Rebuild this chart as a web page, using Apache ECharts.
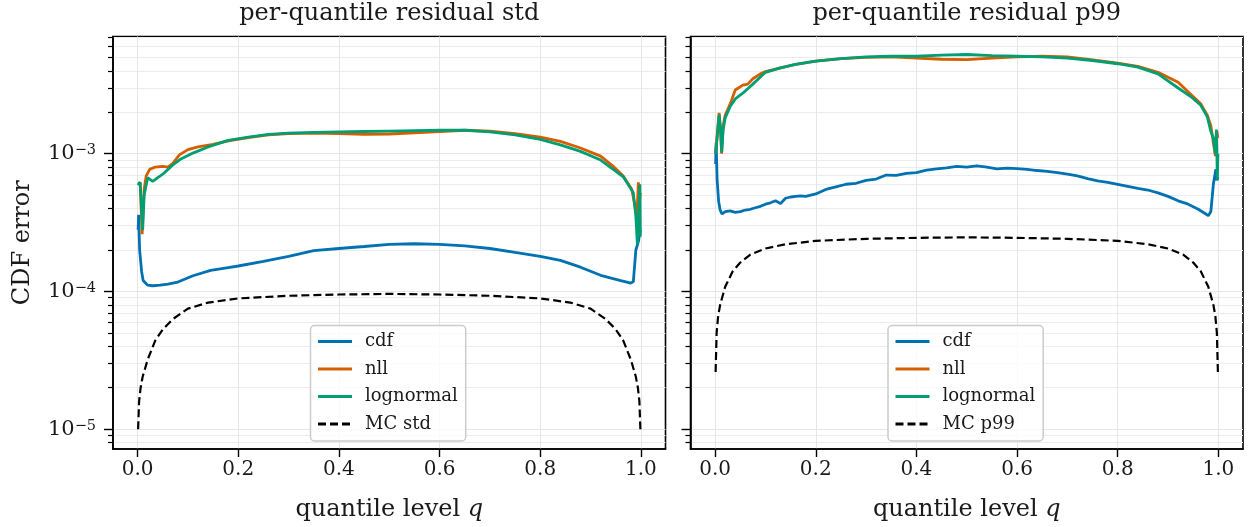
<!DOCTYPE html>
<html><head><meta charset="utf-8">
<script src="https://cdn.jsdelivr.net/npm/echarts@6/dist/echarts.min.js"></script>
<style>html,body{margin:0;padding:0;background:#fff}#c{width:1248px;height:527px}</style>
</head><body><div id="c"></div>
<script>
// ---------------- data ----------------
const panelTitles = ['per-quantile residual std', 'per-quantile residual p99'];
const seriesNames = ['cdf', 'nll', 'lognormal'];
const mcNames = ['MC std', 'MC p99'];
const xTickValues = [0, 0.2, 0.4, 0.6, 0.8, 1.0];
const yMajorExps = [-5, -4, -3];
const yMinorMultipliers = [2, 3, 4, 5, 6, 7, 8, 9];

const qMC = [0.001,0.003,0.006,0.01,0.02,0.035,0.05,0.07,0.1,0.14,0.2,0.3,0.4,0.5,0.6,0.7,0.8,0.86,0.9,0.93,0.95,0.965,0.98,0.99,0.994,0.997,0.999];
const mcStd = [1.0e-5,1.6e-5,2.0e-5,2.4e-5,3.2e-5,4.4e-5,5.3e-5,6.3e-5,7.5e-5,8.3e-5,8.9e-5,9.3e-5,9.5e-5,9.6e-5,9.5e-5,9.3e-5,8.9e-5,8.3e-5,7.5e-5,6.3e-5,5.3e-5,4.4e-5,3.2e-5,2.4e-5,2.0e-5,1.6e-5,1.0e-5];
const mcP99 = [2.6e-5,5.0e-5,6.6e-5,8.0e-5,1.08e-4,1.4e-4,1.62e-4,1.85e-4,2.05e-4,2.2e-4,2.33e-4,2.41e-4,2.45e-4,2.47e-4,2.45e-4,2.41e-4,2.33e-4,2.2e-4,2.05e-4,1.85e-4,1.62e-4,1.4e-4,1.08e-4,8.0e-5,6.6e-5,5.0e-5,2.6e-5];

const qLeftCdf = [0.001,0.002,0.004,0.008,0.011,0.02,0.03,0.045,0.06,0.08,0.11,0.145,0.18,0.2,0.25,0.3,0.35,0.4,0.45,0.5,0.55,0.6,0.65,0.7,0.75,0.8,0.84,0.88,0.92,0.96,0.98,0.985,0.99,0.995,0.999];
const leftCdf = [2.8e-4,3.6e-4,2.0e-4,1.39e-4,1.2e-4,1.11e-4,1.10e-4,1.11e-4,1.13e-4,1.17e-4,1.30e-4,1.42e-4,1.49e-4,1.53e-4,1.65e-4,1.8e-4,1.98e-4,2.05e-4,2.12e-4,2.2e-4,2.22e-4,2.2e-4,2.14e-4,2.05e-4,1.92e-4,1.8e-4,1.68e-4,1.5e-4,1.31e-4,1.2e-4,1.15e-4,1.18e-4,2.0e-4,2.3e-4,2.8e-4];

const qLeftNll = [0.001,0.005,0.009,0.013,0.017,0.024,0.035,0.05,0.06,0.07,0.083,0.1,0.12,0.15,0.18,0.22,0.26,0.3,0.35,0.4,0.45,0.5,0.55,0.6,0.65,0.7,0.75,0.8,0.84,0.88,0.92,0.945,0.965,0.982,0.988,0.992,0.995,0.997,0.999];
const leftNll = [6.0e-4,6.2e-4,2.6e-4,5.5e-4,6.9e-4,7.7e-4,8.0e-4,8.1e-4,8.0e-4,8.5e-4,9.8e-4,1.07e-3,1.12e-3,1.17e-3,1.24e-3,1.31e-3,1.37e-3,1.40e-3,1.41e-3,1.40e-3,1.38e-3,1.39e-3,1.42e-3,1.45e-3,1.48e-3,1.46e-3,1.40e-3,1.32e-3,1.23e-3,1.10e-3,9.6e-4,8.1e-4,6.9e-4,5.5e-4,4.2e-4,3.5e-4,6.2e-4,4.5e-4,5.2e-4];

const qLeftLogn = [0.001,0.005,0.008,0.010,0.013,0.02,0.03,0.04,0.05,0.07,0.085,0.11,0.14,0.18,0.22,0.26,0.3,0.35,0.4,0.45,0.5,0.55,0.6,0.65,0.7,0.75,0.8,0.84,0.88,0.92,0.945,0.965,0.985,0.99,0.993,0.996,0.998,0.999];
const leftLogn = [5.9e-4,6.2e-4,6.4e-4,2.8e-4,5.0e-4,6.7e-4,6.3e-4,6.7e-4,7.1e-4,8.3e-4,9.1e-4,1.01e-3,1.12e-3,1.25e-3,1.32e-3,1.38e-3,1.41e-3,1.43e-3,1.44e-3,1.45e-3,1.46e-3,1.47e-3,1.48e-3,1.48e-3,1.44e-3,1.37e-3,1.27e-3,1.16e-3,1.04e-3,9.0e-4,7.7e-4,6.8e-4,5.2e-4,3.5e-4,2.2e-4,3.8e-4,6.0e-4,2.5e-4];

const qRightCdf = [0.001,0.002,0.004,0.007,0.010,0.014,0.02,0.03,0.04,0.05,0.06,0.07,0.08,0.09,0.10,0.11,0.12,0.13,0.14,0.15,0.16,0.17,0.18,0.19,0.20,0.22,0.24,0.26,0.28,0.30,0.32,0.34,0.36,0.38,0.40,0.42,0.44,0.46,0.48,0.50,0.52,0.54,0.56,0.58,0.60,0.62,0.64,0.66,0.68,0.70,0.72,0.74,0.76,0.78,0.80,0.82,0.84,0.86,0.88,0.90,0.92,0.94,0.96,0.975,0.98,0.985,0.99,0.995,0.997,0.999];
const rightCdf = [8.4e-4,1.2e-3,6.5e-4,4.5e-4,3.9e-4,3.65e-4,3.8e-4,3.85e-4,3.75e-4,3.8e-4,3.9e-4,3.95e-4,4.05e-4,4.15e-4,4.3e-4,4.4e-4,4.55e-4,4.35e-4,4.75e-4,4.85e-4,4.9e-4,4.95e-4,4.9e-4,5.0e-4,5.1e-4,5.5e-4,5.75e-4,6.0e-4,6.1e-4,6.4e-4,6.55e-4,7.0e-4,6.95e-4,7.2e-4,7.3e-4,7.6e-4,7.75e-4,7.9e-4,8.1e-4,8.0e-4,8.15e-4,8.0e-4,7.75e-4,7.85e-4,7.8e-4,7.7e-4,7.55e-4,7.45e-4,7.3e-4,7.1e-4,6.9e-4,6.6e-4,6.35e-4,6.2e-4,6.0e-4,5.8e-4,5.6e-4,5.45e-4,5.2e-4,4.9e-4,4.55e-4,4.3e-4,3.95e-4,3.65e-4,3.55e-4,3.8e-4,6.0e-4,7.7e-4,6.4e-4,6.8e-4];

const qRightNll = [0.001,0.005,0.008,0.011,0.013,0.016,0.02,0.03,0.04,0.055,0.065,0.075,0.09,0.10,0.13,0.16,0.2,0.25,0.3,0.35,0.4,0.45,0.5,0.55,0.6,0.65,0.7,0.75,0.8,0.84,0.88,0.92,0.945,0.965,0.978,0.985,0.99,0.994,0.997,0.999];
const rightNll = [1.0e-3,1.5e-3,1.98e-3,1.4e-3,1.0e-3,1.6e-3,1.9e-3,2.3e-3,2.9e-3,3.15e-3,3.2e-3,3.5e-3,3.8e-3,3.95e-3,4.2e-3,4.45e-3,4.7e-3,4.9e-3,5.0e-3,5.05e-3,4.95e-3,4.85e-3,4.82e-3,4.95e-3,5.05e-3,5.1e-3,5.05e-3,4.8e-3,4.55e-3,4.3e-3,3.9e-3,3.3e-3,2.7e-3,2.3e-3,1.9e-3,1.6e-3,1.2e-3,9.6e-4,1.45e-3,1.3e-3];

const qRightLogn = [0.001,0.004,0.008,0.011,0.013,0.016,0.02,0.03,0.04,0.055,0.075,0.09,0.10,0.13,0.16,0.2,0.25,0.3,0.35,0.4,0.45,0.5,0.55,0.6,0.65,0.7,0.75,0.8,0.84,0.88,0.92,0.945,0.965,0.978,0.985,0.99,0.994,0.996,0.998,0.999];
const rightLogn = [1.0e-3,1.3e-3,1.92e-3,1.5e-3,1.02e-3,1.5e-3,1.82e-3,2.2e-3,2.5e-3,2.75e-3,3.2e-3,3.6e-3,3.9e-3,4.2e-3,4.45e-3,4.7e-3,4.9e-3,5.05e-3,5.1e-3,5.1e-3,5.2e-3,5.25e-3,5.15e-3,5.1e-3,5.05e-3,4.95e-3,4.75e-3,4.5e-3,4.25e-3,3.8e-3,3.0e-3,2.6e-3,2.25e-3,1.85e-3,1.45e-3,1.3e-3,1.0e-3,1.5e-3,6.5e-4,1.0e-3];

// ---------------- chart ----------------
const FONT = 'DejaVu Serif';
const TXT = '#1a1a1a';
const COLORS = ['#0072b2', '#d55e00', '#009e73'];
const LOG_MIN = -5.144, LOG_MAX = -2.149;
const X_MIN = -0.0489, X_MAX = 1.0489;
const GRID_LEFTS = [113, 690.5];
const GRID_TOP = 36.5, GRID_W = 552.5, GRID_H = 414.5;

function pairs(q, v) { return q.map((x, i) => [x, Math.log10(v[i])]); }
const minorVals = [];
for (const e of [-6, -5, -4, -3]) for (const k of yMinorMultipliers) {
  const t = e + Math.log10(k);
  if (t > LOG_MIN && t < LOG_MAX) minorVals.push(t);
}

const gridLine = { show: true, lineStyle: { color: '#e6e6e6', width: 1 } };
const grids = GRID_LEFTS.map(l => ({ left: l, top: GRID_TOP, width: GRID_W, height: GRID_H, show: true, borderColor: '#000', borderWidth: 1.6, backgroundColor: 'transparent' }));

const xAxes = [0, 1].map(i => ({
  gridIndex: i, type: 'value', min: X_MIN, max: X_MAX,
  axisLine: { show: true, onZero: false, lineStyle: { color: '#000', width: 1.6 } },
  axisTick: { show: true, length: 8, customValues: xTickValues, lineStyle: { color: '#000', width: 1.4 } },
  axisLabel: { customValues: xTickValues, formatter: v => v.toFixed(1), fontFamily: FONT, fontSize: 20, color: TXT, margin: 11 },
  splitLine: gridLine,
  name: 'quantile level {it|q}', nameLocation: 'middle', nameGap: 49,
  nameTextStyle: { fontFamily: FONT, fontSize: 24, color: TXT,
    rich: { it: { fontFamily: FONT, fontStyle: 'italic', fontSize: 24, color: TXT } } }
}));

const yMajor = [0, 1].map(i => ({
  gridIndex: i, type: 'value', min: LOG_MIN, max: LOG_MAX, position: 'left',
  axisLine: { show: true, onZero: false, lineStyle: { color: '#000', width: 1.6 } },
  axisTick: { show: true, length: 9, customValues: yMajorExps, lineStyle: { color: '#000', width: 1.4 } },
  axisLabel: { show: i === 0, customValues: yMajorExps, margin: 17,
    formatter: v => '{b|10}{s|\u2212' + Math.round(-v) + '}',
    rich: { b: { fontFamily: FONT, fontSize: 21, color: TXT, lineHeight: 21 },
            s: { fontFamily: FONT, fontSize: 14.5, color: TXT, lineHeight: 14, verticalAlign: 'top' } } },
  splitLine: gridLine,
  name: i === 0 ? 'CDF error' : '', nameLocation: 'middle', nameGap: 78, nameRotate: 90,
  nameTextStyle: { fontFamily: FONT, fontSize: 24, color: TXT }
}));
const yMinor = [0, 1].map(i => ({
  gridIndex: i, type: 'value', min: LOG_MIN, max: LOG_MAX, position: 'left', offset: 0,
  axisLine: { show: false, onZero: false },
  axisTick: { show: true, length: 5, customValues: minorVals, lineStyle: { color: '#000', width: 1.2 } },
  axisLabel: { show: false },
  splitLine: { show: true, lineStyle: { color: '#ececec', width: 1 } }
}));

const panelData = [
  { curves: [pairs(qLeftCdf, leftCdf), pairs(qLeftNll, leftNll), pairs(qLeftLogn, leftLogn)], mc: pairs(qMC, mcStd) },
  { curves: [pairs(qRightCdf, rightCdf), pairs(qRightNll, rightNll), pairs(qRightLogn, rightLogn)], mc: pairs(qMC, mcP99) }
];
const series = [];
panelData.forEach((p, i) => {
  p.curves.forEach((d, k) => series.push({
    type: 'line', name: seriesNames[k], xAxisIndex: i, yAxisIndex: i, data: d,
    symbol: 'none', showSymbol: false, smooth: false, z: 3 + k,
    lineStyle: { color: COLORS[k], width: 2.8 }, itemStyle: { color: COLORS[k] }
  }));
  series.push({
    type: 'line', name: mcNames[i], xAxisIndex: i, yAxisIndex: i, data: p.mc,
    symbol: 'none', showSymbol: false, z: 6,
    lineStyle: { color: '#000', width: 2.2, type: [8, 4] }, itemStyle: { color: '#000' }
  });
});

const legends = [0, 1].map(i => ({
  data: seriesNames.concat([mcNames[i]]), orient: 'vertical', selectedMode: false,
  left: [310.5, 888][i], top: 325.5,
  itemWidth: 34, itemHeight: 14, itemGap: 9.5,
  padding: [7, 8, 8, 6],
  itemStyle: { color: 'rgba(0,0,0,0)', borderWidth: 0, opacity: 0 },
  lineStyle: { width: 3 },
  textStyle: { fontFamily: FONT, fontSize: 18, color: TXT, padding: [0, 0, 0, 8] },
  borderColor: '#cccccc', borderWidth: 1.5, borderRadius: 4,
  backgroundColor: 'rgba(255,255,255,0.8)'
}));

const graphic = panelTitles.map((t, i) => ({
  type: 'text', x: GRID_LEFTS[i] + GRID_W / 2, y: 14,
  style: { text: t, align: 'center', verticalAlign: 'middle', textAlign: 'center', textVerticalAlign: 'middle',
           fontFamily: FONT, fontSize: 24, fill: TXT }
}));

const chart = echarts.init(document.getElementById('c'), null, { renderer: 'canvas' });
chart.setOption({
  animation: false,
  backgroundColor: '#fff',
  grid: grids,
  xAxis: xAxes,
  yAxis: yMajor.concat(yMinor),
  legend: legends,
  graphic: graphic,
  series: series
});
</script></body></html>
